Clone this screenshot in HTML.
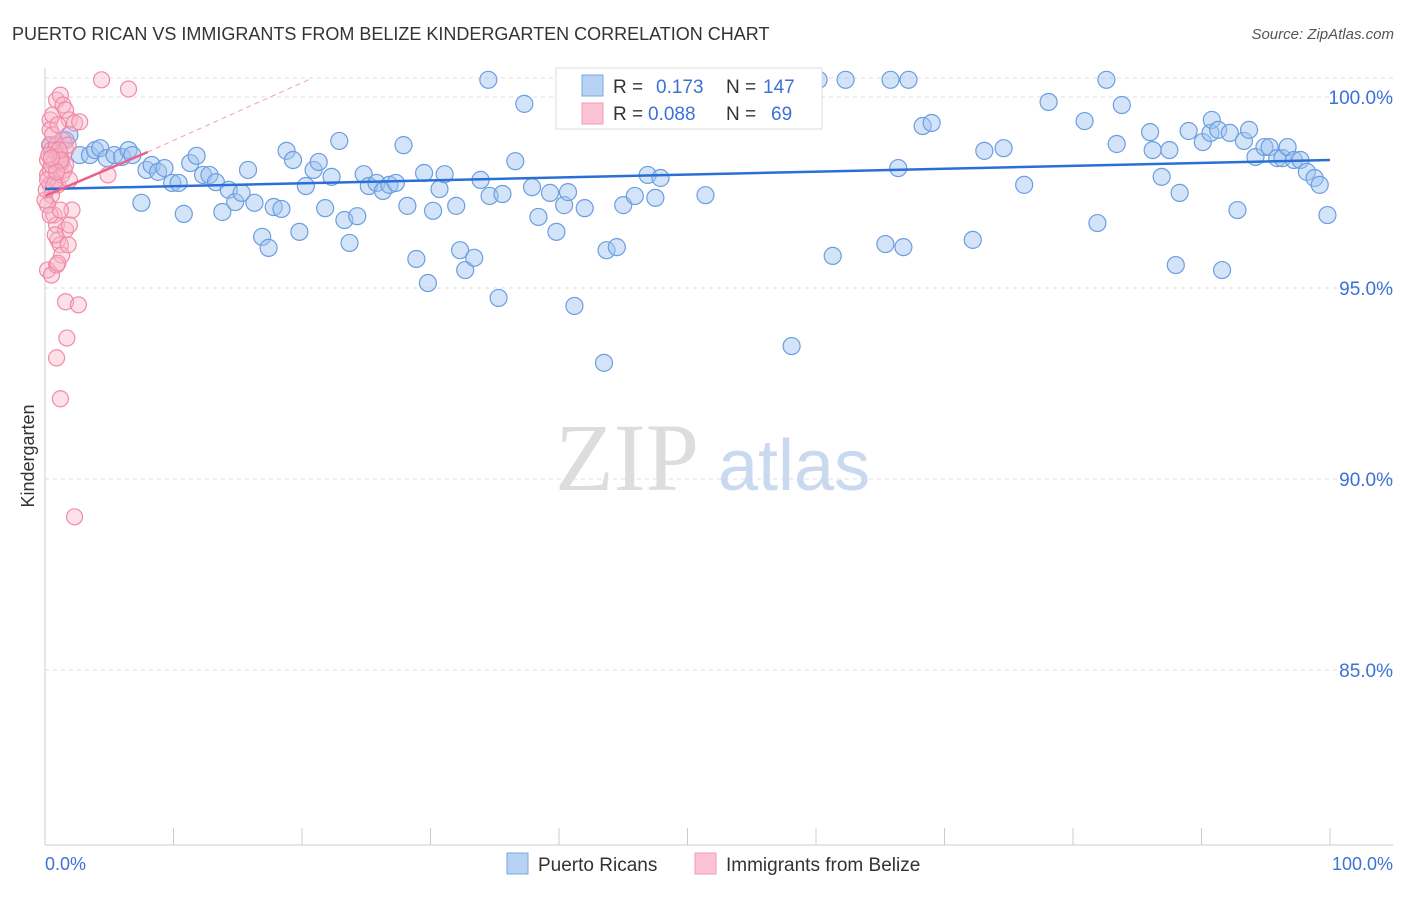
<!DOCTYPE html>
<html><head><meta charset="utf-8"><style>
body{margin:0;background:#fff;font-family:"Liberation Sans",sans-serif}
svg text{font-family:"Liberation Sans",sans-serif}
</style></head><body>
<svg id="chart" width="1406" height="892" viewBox="0 0 1406 892" xmlns="http://www.w3.org/2000/svg">
<text x="12" y="40" font-size="18" fill="#333">PUERTO RICAN VS IMMIGRANTS FROM BELIZE KINDERGARTEN CORRELATION CHART</text>
<text x="1394" y="39" font-size="15" fill="#555" text-anchor="end" font-style="italic">Source: ZipAtlas.com</text>
<g id="grid"></g>
<g id="axes"></g>
<text x="555" y="490" font-size="96" fill="#ddd" style="font-family:'Liberation Serif',serif">ZIP</text>
<text x="718" y="490" font-size="72" fill="#c9d9ef">atlas</text>
<g id="marks"></g>
<g id="trends"></g>
<text transform="translate(34,456) rotate(-90)" font-size="18" fill="#333" text-anchor="middle">Kindergarten</text>
<g>
<rect x="556" y="68" width="266" height="61" fill="#fff" stroke="#ddd"/>
<rect x="582" y="75" width="21" height="21" fill="#b8d2f4" stroke="#7aa8e4"/>
<rect x="582" y="103" width="21" height="21" fill="#fbc4d4" stroke="#f09ab4"/>
<text x="613" y="93" font-size="19" fill="#333">R = <tspan x="656" fill="#3a72d8">0.173</tspan><tspan x="726">N = </tspan><tspan x="763" fill="#3a72d8">147</tspan></text>
<text x="613" y="120" font-size="19" fill="#333">R = <tspan x="648" fill="#3a72d8">0.088</tspan><tspan x="726">N = </tspan><tspan x="771" fill="#3a72d8">69</tspan></text>
</g>
<g>
<rect x="507" y="853" width="21" height="21" fill="#b8d2f4" stroke="#7aa8e4"/>
<text x="538" y="871" font-size="19" fill="#333">Puerto Ricans</text>
<rect x="695" y="853" width="21" height="21" fill="#fbc4d4" stroke="#f09ab4"/>
<text x="726" y="871" font-size="19" fill="#333">Immigrants from Belize</text>
</g>
</svg>
<script>
const yTicks=[100,95,90,85];
const yTickLabels=["100.0%","95.0%","90.0%","85.0%"];
const xTickLabels=["0.0%","100.0%"];
const blueX=[0.4,0.8,1.2,1.6,1.9,2.7,3.5,3.9,4.3,4.8,5.4,6.0,6.5,6.8,7.5,7.9,8.3,8.8,9.3,9.9,10.4,10.8,11.3,11.8,12.3,12.8,13.3,13.8,14.3,14.8,15.3,15.8,16.3,16.9,17.4,17.8,18.4,18.8,19.3,19.8,20.3,20.9,21.3,21.8,22.3,22.9,23.3,23.7,24.3,24.8,25.2,25.8,26.3,26.8,27.3,27.9,28.2,28.9,29.5,29.8,30.2,30.7,31.1,32.0,32.3,32.7,33.4,33.9,34.5,34.6,35.3,35.6,36.6,37.3,37.9,38.4,39.3,39.8,40.4,40.7,41.2,42.0,43.5,43.7,44.5,45.0,45.9,46.9,47.5,47.9,48.1,49.1,51.4,53.5,58.1,59.4,60.2,61.3,62.3,65.4,65.8,66.4,66.8,67.2,68.3,69.0,72.2,73.1,74.6,76.2,78.1,80.9,81.9,82.6,83.4,83.8,86.0,86.2,86.9,87.5,88.0,88.3,89.0,90.1,90.7,90.8,91.3,91.6,92.2,92.8,93.3,93.7,94.2,94.9,95.3,95.9,96.3,96.7,97.2,97.7,98.2,98.8,99.2,99.8];
const blueY=[98.74,98.61,98.35,98.87,99.01,98.48,98.48,98.61,98.66,98.40,98.48,98.43,98.61,98.48,97.23,98.09,98.22,98.04,98.14,97.75,97.75,96.94,98.27,98.46,97.96,97.96,97.77,96.99,97.57,97.25,97.49,98.09,97.23,96.34,96.05,97.12,97.07,98.59,98.35,96.47,97.67,98.09,98.30,97.09,97.91,98.85,96.78,96.18,96.88,97.98,97.67,97.75,97.54,97.70,97.75,98.74,97.15,95.76,98.01,95.13,97.02,97.59,97.98,97.15,95.99,95.47,95.79,97.83,100.45,97.41,94.74,97.46,98.32,99.82,97.64,96.86,97.49,96.47,97.17,97.51,94.53,97.09,93.04,95.99,96.07,97.17,97.41,97.96,97.36,97.88,100.45,100.45,97.43,100.45,93.48,100.45,100.45,95.84,100.45,96.15,100.45,98.14,96.07,100.45,99.24,99.32,96.26,98.59,98.66,97.70,99.87,99.37,96.70,100.45,98.77,99.79,99.08,98.61,97.91,98.61,95.60,97.49,99.11,98.82,99.06,99.40,99.14,95.47,99.06,97.04,98.85,99.14,98.43,98.69,98.69,98.40,98.40,98.69,98.35,98.35,98.04,97.88,97.70,96.91];
const pinkX=[0.4,0.5,0.8,0.9,1.2,1.4,0.2,0.4,0.5,0.7,0.9,1.0,1.2,1.3,1.6,1.8,1.9,2.1,0.4,0.6,0.9,1.2,1.4,1.6,1.9,2.3,2.7,0.2,0.5,0.9,1.0,1.6,2.6,1.7,0.9,1.2,2.3,4.4,6.5,4.9,0.2,0.4,0.5,0.8,1.0,1.3,1.5,1.9,0.2,0.4,0.8,1.2,1.6,1.8,0,0.1,0.2,0.4,0.6,1.0,1.3,1.6,0.7,1.1,1.2,0.9,0.3,0.5];
const pinkY=[98.74,98.61,98.35,98.74,98.48,98.87,97.96,97.70,97.43,96.91,96.65,96.26,96.13,95.86,96.52,96.13,96.65,97.04,99.40,99.53,99.92,100.05,99.79,99.66,99.40,99.32,99.35,95.47,95.34,95.60,95.65,94.64,94.56,93.69,93.17,92.10,89.01,100.45,100.21,97.96,98.35,98.09,98.22,97.83,97.70,97.96,98.09,97.83,97.17,96.91,96.39,97.04,98.61,98.74,97.30,97.57,97.83,99.14,99.01,99.27,98.30,98.22,97.70,98.61,98.35,98.04,98.48,98.40];
const blueTrendX=[0,100], blueTrendY=[97.59,98.35];
const pinkTrendX=[0,8], pinkTrendY=[97.41,98.56];
const pinkDashX=[8,20.5], pinkDashY=[98.56,100.45];

const NS="http://www.w3.org/2000/svg";
const X0=45,X1=1330,Y100=97,PXPCT=38.2;
const sx=v=>X0+(X1-X0)*v/100;
const sy=v=>Y100+(100-v)*PXPCT;
function mk(tag,attrs,parent){const e=document.createElementNS(NS,tag);for(const k in attrs)e.setAttribute(k,attrs[k]);parent.appendChild(e);return e;}
const gridG=document.getElementById('grid'),axesG=document.getElementById('axes'),marksG=document.getElementById('marks'),trendsG=document.getElementById('trends');
const topLine=mk('line',{x1:45,x2:1393,y1:78,y2:78,stroke:'#ddd','stroke-dasharray':'4,4'},gridG);


yTicks.forEach((t,i)=>{
 const l=mk('line',{x1:45,x2:1393,y1:sy(t),y2:sy(t),stroke:'#ddd','stroke-dasharray':'4,4'},gridG);
 
 
 const tx=mk('text',{x:1393,y:sy(t)+7,'font-size':19,fill:'#3a72d8','text-anchor':'end'},axesG);
 tx.textContent=yTickLabels[i];
 
 
});
const ax=mk('line',{x1:45,x2:45,y1:68,y2:845,stroke:'#ccc'},axesG);


const bx=mk('line',{x1:45,x2:1393,y1:845,y2:845,stroke:'#ccc'},axesG);


for(let i=1;i<=10;i++){
 const t=mk('line',{x1:sx(i*10),x2:sx(i*10),y1:828,y2:845,stroke:'#ccc'},axesG);
 
 
}
const xl0=mk('text',{x:45,y:870,'font-size':18,fill:'#3a72d8'},axesG);xl0.textContent=xTickLabels[0];


const xl1=mk('text',{x:1393,y:870,'font-size':18,fill:'#3a72d8','text-anchor':'end'},axesG);xl1.textContent=xTickLabels[1];


blueX.forEach((v,i)=>{
 const c=mk('circle',{cx:sx(v),cy:sy(blueY[i]),r:8.5,fill:'rgba(160,196,240,0.45)',stroke:'#6b9ee0','stroke-width':1.2},marksG);
 
 
});
pinkX.forEach((v,i)=>{
 const c=mk('circle',{cx:sx(v),cy:sy(pinkY[i]),r:8,fill:'rgba(248,180,200,0.4)',stroke:'#f08aa8','stroke-width':1.2},marksG);
 
 
});
const bt=mk('line',{x1:sx(blueTrendX[0]),y1:sy(blueTrendY[0]),x2:sx(blueTrendX[1]),y2:sy(blueTrendY[1]),stroke:'#2a6fd6','stroke-width':2.5},trendsG);


const pt=mk('line',{x1:sx(pinkTrendX[0]),y1:sy(pinkTrendY[0]),x2:sx(pinkTrendX[1]),y2:sy(pinkTrendY[1]),stroke:'#e8628c','stroke-width':2.5},trendsG);


const pd=mk('line',{x1:sx(pinkDashX[0]),y1:sy(pinkDashY[0]),x2:sx(pinkDashX[1]),y2:sy(pinkDashY[1]),stroke:'#f0a0b8','stroke-width':1,'stroke-dasharray':'5,4'},trendsG);


</script>
</body></html>
